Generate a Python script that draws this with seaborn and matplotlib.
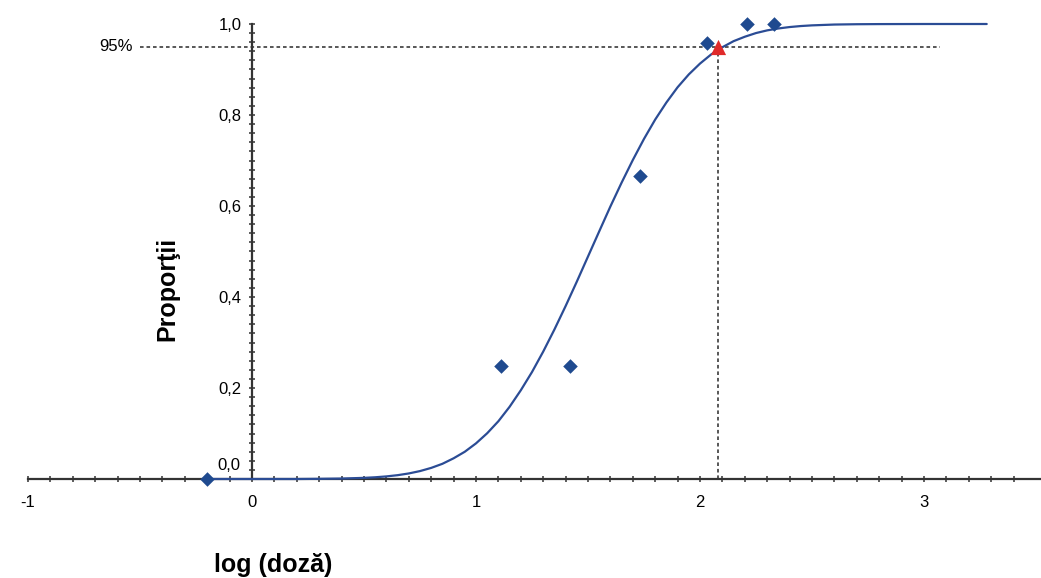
import numpy as np
import matplotlib
matplotlib.use("Agg")
import matplotlib.pyplot as plt
import seaborn as sns
from matplotlib.ticker import FixedLocator, FixedFormatter

# ---------------- data ----------------
log_doza = [-0.20, 1.11, 1.42, 1.73, 2.03, 2.21, 2.33]
proportii = [0.0, 0.248, 0.248, 0.666, 0.958, 1.0, 1.0]

curve_x = [-0.2, 0.0, 0.2, 0.3, 0.4, 0.5, 0.55, 0.6, 0.65, 0.7, 0.75, 0.8,
           0.85, 0.9, 0.95, 1.0, 1.05, 1.1, 1.15, 1.2, 1.25, 1.3, 1.35, 1.4,
           1.45, 1.5, 1.55, 1.6, 1.65, 1.7, 1.75, 1.8, 1.85, 1.9, 1.95, 2.0,
           2.05, 2.1, 2.15, 2.2, 2.25, 2.3, 2.35, 2.4, 2.45, 2.5, 2.6, 2.7,
           2.8, 3.0, 3.28]
curve_y = [0.0, 0.0, 0.0, 0.0004, 0.001, 0.0025, 0.0038, 0.0057, 0.0084,
           0.0122, 0.0174, 0.0244, 0.0334, 0.0455, 0.0599, 0.0783, 0.1006,
           0.127, 0.1587, 0.195, 0.2351, 0.280, 0.3285, 0.380, 0.4337, 0.489,
           0.5442, 0.599, 0.6513, 0.701, 0.7475, 0.790, 0.8275, 0.861, 0.8892,
           0.913, 0.9332, 0.949, 0.9623, 0.972, 0.9801, 0.986, 0.9902, 0.9933,
           0.9955, 0.997, 0.9988, 0.9995, 0.9998, 1.0, 1.0]

ld95_x = [2.08]
ld95_y = [0.95]
ref_h_span = [-0.50, 3.07]

x_ticks = [-1, 0, 1, 2, 3]
x_tick_labels = ["-1", "0", "1", "2", "3"]
y_ticks = [0.2, 0.4, 0.6, 0.8, 1.0]
y_tick_labels = ["0,2", "0,4", "0,6", "0,8", "1,0"]
zero_label = "0,0"
pct_label = "95%"

# ---------------- style ----------------
sns.set_style("white")
plt.rcParams["font.family"] = ["Liberation Sans", "DejaVu Sans"]

W, H = 1041, 578
fig = plt.figure(figsize=(W / 100, H / 100), dpi=100)
ax = fig.add_axes([0, 0, 1, 1])
ax.set_facecolor("white")

x0_px, x_scale = 252, 224.0
y0_px, y_scale = 479, 455.0
ax.set_xlim(-x0_px / x_scale, (W - x0_px) / x_scale)
ax.set_ylim((y0_px - H) / y_scale, y0_px / y_scale)

axis_col = "#333333"
blue_line = "#2B4C95"
blue_pt = "#1F4A8F"
red_pt = "#E02A2A"
dot_col = "#4A4A4A"
tick_fs = 12

# reference dotted lines
ax.hlines(ld95_y[0], ref_h_span[0], ref_h_span[1], colors=dot_col,
          linestyles=(0, (2.0, 1.6)), lw=1.3, zorder=2)
ax.vlines(ld95_x[0], 0, ld95_y[0], colors=dot_col,
          linestyles=(0, (2.0, 1.6)), lw=1.3, zorder=2)

# fitted curve
sns.lineplot(x=curve_x, y=curve_y, color=blue_line, lw=1.6, ax=ax,
             zorder=3, sort=False)

# observed points
sns.scatterplot(x=log_doza, y=proportii, marker="D", s=55, color=blue_pt,
                linewidth=0, ax=ax, zorder=4)
# 95% point
sns.scatterplot(x=ld95_x, y=ld95_y, marker="^", s=120, color=red_pt,
                linewidth=0, ax=ax, zorder=5)

# spines through the origin
for s in ["top", "right"]:
    ax.spines[s].set_visible(False)
ax.spines["left"].set_position(("data", 0))
ax.spines["bottom"].set_position(("data", 0))
ax.spines["left"].set_bounds(0, 1.0)
ax.spines["bottom"].set_bounds(-1, ax.get_xlim()[1])
for s in ["left", "bottom"]:
    ax.spines[s].set_linewidth(1.6)
    ax.spines[s].set_color(axis_col)
    ax.spines[s].set_zorder(2.5)

ax.xaxis.set_major_locator(FixedLocator(x_ticks))
ax.xaxis.set_major_formatter(FixedFormatter(x_tick_labels))
ax.xaxis.set_minor_locator(FixedLocator(np.round(np.arange(-1, 3.41, 0.1), 2)))
ax.yaxis.set_major_locator(FixedLocator(y_ticks))
ax.yaxis.set_major_formatter(FixedFormatter(y_tick_labels))
ax.yaxis.set_minor_locator(FixedLocator(np.round(np.arange(0, 1.001, 0.02), 2)))

ax.tick_params(axis="both", which="both", direction="inout", length=5,
               width=1.1, color=axis_col, bottom=True, left=True)
ax.tick_params(axis="x", which="major", pad=9, labelsize=tick_fs, labelcolor="black")
ax.tick_params(axis="y", which="major", pad=5, labelsize=tick_fs, labelcolor="black")

ax.annotate(zero_label, xy=(0, 0), xytext=(-12, 14), textcoords="offset pixels",
            ha="right", va="center", fontsize=tick_fs, color="black")
ax.annotate(pct_label, xy=(ref_h_span[0], ld95_y[0]), xytext=(-7, 0),
            textcoords="offset pixels", ha="right", va="center",
            fontsize=tick_fs, color="black")

ax.set_xlabel("log (doză)", fontsize=18, fontweight="bold", color="black")
ax.xaxis.set_label_coords(273.5 / W, 1 - 565 / H)
ax.xaxis.label.set_va("center")
ax.xaxis.label.set_ha("center")
ax.set_ylabel("Proporţii", fontsize=18, fontweight="bold", color="black")
ax.yaxis.set_label_coords(167 / W, 1 - 289 / H)
ax.yaxis.label.set_va("center")
ax.yaxis.label.set_ha("center")

fig.savefig("out.png", dpi=100, facecolor="white")
